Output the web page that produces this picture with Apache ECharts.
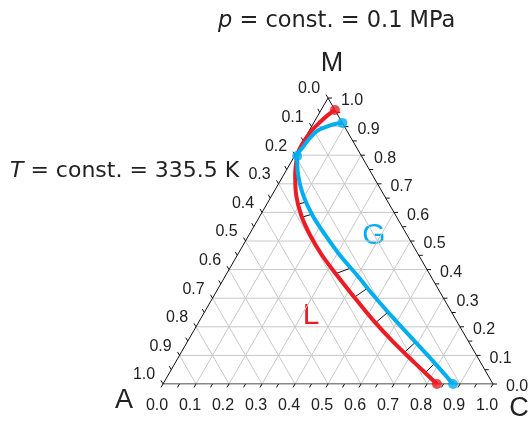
<!DOCTYPE html>
<html>
<head>
<meta charset="utf-8">
<script src="https://cdn.jsdelivr.net/npm/echarts@6/dist/echarts.min.js"></script>
<style>
  html, body { margin: 0; padding: 0; background: #fff; }
  #chart { width: 531px; height: 421px; }
</style>
</head>
<body>
<div id="chart"></div>
<script>
// compositions are [C, M] mole fractions, A = 1 - C - M
const liquidCurve = [
  [0.042, 0.958], [0.030, 0.941], [0.018, 0.916], [0.008, 0.888],
  [0.003, 0.853], [0.003, 0.818], [0.008, 0.797], [0.035, 0.731],
  [0.073, 0.661], [0.123, 0.591], [0.185, 0.521], [0.256, 0.451],
  [0.336, 0.381], [0.427, 0.304], [0.524, 0.224], [0.624, 0.147],
  [0.727, 0.073], [0.830, 0.000]
];
const gasCurve = [
  [0.087, 0.913], [0.066, 0.909], [0.045, 0.899], [0.025, 0.885],
  [0.015, 0.860], [0.010, 0.829], [0.008, 0.797], [0.044, 0.731],
  [0.094, 0.661], [0.157, 0.591], [0.231, 0.521], [0.310, 0.451],
  [0.397, 0.381], [0.490, 0.304], [0.591, 0.224], [0.691, 0.147],
  [0.787, 0.073], [0.879, 0.000]
];
const tieLiquid = [
  [0.095, 0.629], [0.129, 0.583], [0.331, 0.386], [0.428, 0.303],
  [0.537, 0.214], [0.676, 0.110], [0.775, 0.039]
];
const tieGas = [
  [0.116, 0.636], [0.153, 0.593], [0.367, 0.406], [0.453, 0.336],
  [0.556, 0.251], [0.692, 0.146], [0.787, 0.073]
];
const liquidEnds = [[0.042, 0.958], [0.830, 0.000]];
const gasEnds = [[0.087, 0.913], [0.008, 0.797], [0.879, 0.000]];
const tickValues = [0, 0.1, 0.2, 0.3, 0.4, 0.5, 0.6, 0.7, 0.8, 0.9, 1.0];
const tickLabels = ['0.0', '0.1', '0.2', '0.3', '0.4', '0.5', '0.6', '0.7', '0.8', '0.9', '1.0'];
const minorTicks = [0, 0.05, 0.1, 0.15, 0.2, 0.25, 0.3, 0.35, 0.4, 0.45, 0.5,
  0.55, 0.6, 0.65, 0.7, 0.75, 0.8, 0.85, 0.9, 0.95, 1.0];

const RED = '#ED1C24';
const BLUE = '#00AEEF';
const H = Math.sqrt(3) / 2;

function toXY(p) {
  return [p[0] + p[1] / 2, p[1] * H];
}

// grid lines for the three components
const gridLines = [];
tickValues.slice(1, -1).forEach((v) => {
  gridLines.push([...toXY([v, 0]), ...toXY([v, 1 - v])]);       // C const
  gridLines.push([...toXY([0, v]), ...toXY([1 - v, v])]);       // M const
  gridLines.push([...toXY([1 - v, 0]), ...toXY([0, 1 - v])]);   // A const
});

// ticks: point + screen direction
const ticks = [];
minorTicks.forEach((v) => {
  ticks.push([...toXY([v, 0]), -0.5, H]);        // bottom, C
  ticks.push([...toXY([1 - v, v]), 1, 0]);       // right, M
  ticks.push([...toXY([0, 1 - v]), -0.5, -H]);   // left, A
});

// labels: point + pixel offset + label index
const labels = [];
tickValues.forEach((v, i) => {
  labels.push([...toXY([v, 0]), -6, 22, i]);
  labels.push([...toXY([1 - v, v]), 24, 3, i]);
  labels.push([...toXY([0, 1 - v]), -19, -9, i]);
});

const ties = [];
tieLiquid.forEach((p, i) => {
  ties.push([...toXY(p), ...toXY(tieGas[i])]);
});

function segment(color, width) {
  return (params, api) => {
    const a = api.coord([api.value(0), api.value(1)]);
    const b = api.coord([api.value(2), api.value(3)]);
    return {
      type: 'line',
      shape: { x1: a[0], y1: a[1], x2: b[0], y2: b[1] },
      style: { stroke: color, lineWidth: width }
    };
  };
}

const chart = echarts.init(document.getElementById('chart'));

chart.setOption({
  animation: false,
  grid: { left: 163, top: 98, width: 330, height: 286 },
  xAxis: { type: 'value', min: 0, max: 1, show: false },
  yAxis: { type: 'value', min: 0, max: H, show: false },
  graphic: [
    {
      type: 'text', x: 218, y: 21,
      style: {
        text: '{i|p} = const. = 0.1 MPa',
        font: '22.5px "DejaVu Sans"', fill: '#222', verticalAlign: 'middle',
        rich: { i: { fontStyle: 'italic', fontSize: 22.5, fontFamily: 'DejaVu Sans', fill: '#222' } }
      }
    },
    {
      type: 'text', x: 10, y: 171,
      style: {
        text: '{i|T} = const. = 335.5 K',
        font: '22px "DejaVu Sans"', fill: '#222', verticalAlign: 'middle',
        rich: { i: { fontStyle: 'italic', fontSize: 22, fontFamily: 'DejaVu Sans', fill: '#222' } }
      }
    },
    { type: 'text', x: 332, y: 64, style: { text: 'M', font: '27px "Liberation Sans"', fill: '#222', align: 'center', verticalAlign: 'middle' } },
    { type: 'text', x: 124, y: 401, style: { text: 'A', font: '27px "Liberation Sans"', fill: '#222', align: 'center', verticalAlign: 'middle' } },
    { type: 'text', x: 519, y: 409, style: { text: 'C', font: '27px "Liberation Sans"', fill: '#222', align: 'center', verticalAlign: 'middle' } },
    { type: 'text', x: 374, y: 236, style: { text: 'G', font: '30px "Liberation Sans"', fill: BLUE, align: 'center', verticalAlign: 'middle' } },
    { type: 'text', x: 311, y: 316, style: { text: 'L', font: '30px "Liberation Sans"', fill: RED, align: 'center', verticalAlign: 'middle' } }
  ],
  series: [
    {
      type: 'custom', coordinateSystem: 'cartesian2d', z: 1, silent: true,
      data: gridLines, renderItem: segment('#c8c8c8', 1)
    },
    {
      type: 'line', z: 2, silent: true, symbol: 'none',
      data: [toXY([0, 0]), toXY([1, 0]), toXY([0, 1]), toXY([0, 0])],
      lineStyle: { color: '#111', width: 1 }
    },
    {
      type: 'custom', coordinateSystem: 'cartesian2d', z: 2, silent: true,
      data: ticks,
      renderItem: (params, api) => {
        const p = api.coord([api.value(0), api.value(1)]);
        const len = 4;
        return {
          type: 'line',
          shape: { x1: p[0], y1: p[1], x2: p[0] + api.value(2) * len, y2: p[1] + api.value(3) * len },
          style: { stroke: '#111', lineWidth: 1 }
        };
      }
    },
    {
      type: 'custom', coordinateSystem: 'cartesian2d', z: 2, silent: true,
      data: labels,
      renderItem: (params, api) => {
        const p = api.coord([api.value(0), api.value(1)]);
        return {
          type: 'text',
          x: p[0] + api.value(2), y: p[1] + api.value(3),
          style: {
            text: tickLabels[api.value(4)],
            fill: '#222', font: '16px "Liberation Sans"',
            align: 'center', verticalAlign: 'middle'
          }
        };
      }
    },
    {
      type: 'custom', coordinateSystem: 'cartesian2d', z: 3, silent: true,
      data: ties, renderItem: segment('#111', 1)
    },
    {
      type: 'line', z: 4, silent: true, symbol: 'none', smooth: 0.35,
      data: liquidCurve.map(toXY),
      lineStyle: { color: RED, width: 4 }
    },
    {
      type: 'line', z: 5, silent: true, symbol: 'none', smooth: 0.35,
      data: gasCurve.map(toXY),
      lineStyle: { color: BLUE, width: 4 }
    },
    {
      type: 'scatter', z: 6, silent: true, symbolSize: 10,
      data: liquidEnds.map(toXY), itemStyle: { color: RED }
    },
    {
      type: 'scatter', z: 7, silent: true, symbolSize: 10,
      data: gasEnds.map(toXY), itemStyle: { color: BLUE }
    }
  ]
});
</script>
</body>
</html>
